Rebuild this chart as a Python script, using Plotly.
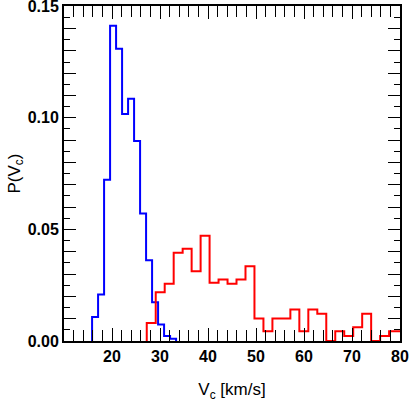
"""Circular velocity distributions: two normalised step histograms."""
import plotly.graph_objects as go

# Bin edges (km/s) and densities.
BLUE_EDGES = [15.85, 17.10, 18.35, 19.60, 20.85, 22.10, 23.35, 24.60,
              25.85, 27.10, 28.35, 29.60, 30.85, 32.10, 33.35]
BLUE_DENSITY = [0.0107, 0.0208, 0.0723, 0.1412, 0.1309, 0.1017, 0.1085,
                0.0896, 0.0571, 0.0362, 0.0174, 0.0074, 0.0022, 0.0010]

RED_EDGES = [27.24, 29.11, 30.98, 32.85, 34.72, 36.59, 38.46, 40.33, 42.20,
             44.07, 45.94, 47.81, 49.68, 51.55, 53.42, 55.29, 57.16, 59.03,
             60.90, 62.77, 64.64, 66.51, 68.38, 70.25, 72.12, 73.99, 75.86,
             77.73, 79.60, 81.47]
RED_DENSITY = [0.0081, 0.0218, 0.0257, 0.0395, 0.0413, 0.0312, 0.0472,
               0.0261, 0.0275, 0.0257, 0.0275, 0.0335, 0.0101, 0.0044,
               0.0101, 0.0101, 0.0141, 0.0044, 0.0141, 0.0122, 0.0,
               0.0044, 0.0022, 0.0062, 0.0122, 0.0, 0.0022, 0.0044, 0.0044]

X_TICKS = [10, 20, 30, 40, 50, 60, 70, 80]
X_LABELS = ["", "20", "30", "40", "50", "60", "70", "80"]
Y_TICKS = [0.00, 0.01, 0.02, 0.03, 0.04, 0.05, 0.06, 0.07, 0.08, 0.09,
           0.10, 0.11, 0.12, 0.13, 0.14, 0.15]
Y_LABELS = ["0.00", "", "", "", "", "0.05", "", "", "", "",
            "0.10", "", "", "", "", "0.15"]

FONT = "Liberation Sans, Arial, sans-serif"


def step_trace(edges, density, color):
    """Outline-only histogram drawn as an hv step line."""
    xs = [edges[0]] + list(edges)
    ys = [0.0] + list(density) + [0.0]
    return go.Scatter(x=xs, y=ys, mode="lines", line_shape="hv",
                      line={"color": color, "width": 2}, showlegend=False)


fig = go.Figure()
fig.add_trace(step_trace(BLUE_EDGES, BLUE_DENSITY, "#0000ff"))
fig.add_trace(step_trace(RED_EDGES, RED_DENSITY, "#ff0000"))

axis_common = dict(
    showgrid=False, zeroline=False, showline=True, linecolor="black",
    linewidth=2, mirror="allticks", ticks="inside", tickcolor="black",
    tickwidth=1, ticklabeloverflow="allow",
    tickfont={"family": FONT, "size": 16, "color": "black", "weight": "bold"},
)

fig.update_xaxes(
    **axis_common, range=[10, 80], tickmode="array", tickvals=X_TICKS,
    ticktext=X_LABELS, ticklen=13,
    minor={"dtick": 2, "tick0": 10, "ticks": "inside", "ticklen": 11,
           "tickcolor": "black", "tickwidth": 1, "showgrid": False},
    title={"text": "V<sub>c</sub> [km/s]", "standoff": 19,
           "font": {"family": FONT, "size": 17, "color": "black"}},
)
fig.update_yaxes(
    **axis_common, range=[0, 0.1501], tickmode="array", tickvals=Y_TICKS,
    ticktext=Y_LABELS, ticklen=12,
    minor={"dtick": 0.005, "tick0": 0, "ticks": "inside", "ticklen": 6,
           "tickcolor": "black", "tickwidth": 1, "showgrid": False},
    title={"text": "P(V<sub>c</sub>)", "standoff": 3,
           "font": {"family": FONT, "size": 17, "color": "black"}},
)

fig.update_layout(
    width=415, height=412,
    margin={"l": 64, "r": 15, "t": 6, "b": 71, "autoexpand": False},
    paper_bgcolor="white", plot_bgcolor="white",
    font={"family": FONT},
)

# Drop the default body margin so the figure sits at the page's top-left.
fig.write_html("out.html", config={"displayModeBar": False},
               post_script="document.body.style.margin='0';")
